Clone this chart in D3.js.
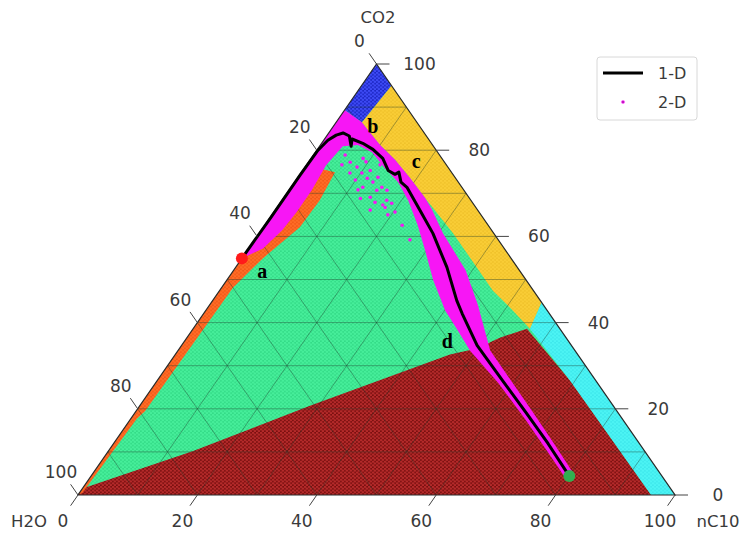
<!DOCTYPE html>
<html>
<head>
<meta charset="utf-8">
<script src="https://cdn.jsdelivr.net/npm/d3@7"></script>
<style>
  body { margin: 0; background: #fff; }
  svg { display: block; font-family: "DejaVu Sans", sans-serif; }
</style>
</head>
<body>
<div id="chart"></div>
<script>
// all points are [CO2, H2O, nC10] in percent
const axisTicks = [0, 20, 40, 60, 80, 100];
const gridLevels = [10, 20, 30, 40, 50, 60, 70, 80, 90];

const regionGreen = [[100, 0, 0], [0, 100, 0], [0, 0, 100]];
const regionMaroon = [[0, 100, 0], [0, 4, 96], [26.5, 4.3, 69.2], [38.6, 5.5, 55.9], [36.5, 11.1, 52.4],
  [34, 16.2, 49.8], [32.6, 21.4, 46], [20.7, 50.8, 28.5], [10.2, 75.6, 14.2], [1.5, 98.5, 0]];
const regionCyan = [[0, 0, 100], [0, 4, 96], [26.5, 4.3, 69.2], [38.6, 5, 56.4], [44.7, 0, 55.3]];
const regionYellow = [[44.7, 0, 55.3], [95, 0, 5], [86.5, 9.2, 4.3], [84.7, 9.1, 6.2], [81.2, 8.8, 10],
  [77.7, 8, 14.2], [73.5, 7.6, 18.9], [68.9, 7.4, 23.7], [60.7, 6.8, 32.5], [52.8, 6.8, 40.4],
  [47.4, 6.8, 45.8], [43.5, 5.9, 50.6], [38.6, 5, 56.4]];
const regionBlue = [[100, 0, 0], [95, 0, 5], [86.5, 9.2, 4.3], [89.3, 10.7, 0]];
const regionOrange = [[0, 100, 0], [76.5, 23.5, 0], [74.9, 19.5, 5.6], [68.4, 25.3, 6.3], [62.1, 31.8, 6.1],
  [54.9, 41.6, 3.5], [48.1, 50, 1.9], [19.5, 79, 1.5], [17.7, 81.3, 1], [0.5, 99, 0.5]];
const regionMagenta = [[89.3, 10.7, 0], [86.5, 9.2, 4.3], [84.7, 9.1, 6.2], [81.2, 8.8, 10], [77.7, 8, 14.2],
  [73.5, 7.6, 18.9], [68.9, 7.4, 23.7], [66.1, 7.6, 26.2], [60.7, 8.5, 30.8], [52.1, 9, 38.9],
  [44, 11, 45], [38.1, 12.8, 49.1], [33.5, 14.2, 52.3], [26.5, 14.2, 59.3], [18.8, 14.2, 67],
  [11.9, 14.3, 73.8], [4.9, 14.5, 80.6], [3.7, 16.4, 79.9], [10.2, 16.3, 73.4], [17.7, 16.3, 66],
  [26, 16.6, 57.4], [33.5, 17.6, 48.9], [38.1, 17.3, 44.6], [42.8, 17.1, 40.1], [49.8, 15.6, 34.6],
  [56.7, 13.5, 29.8], [62.6, 11.8, 25.6], [68.4, 10.5, 21.1], [72.6, 10.1, 17.3], [75.8, 10.7, 13.5],
  [79.5, 11, 9.5], [81.2, 12.5, 6.3], [80.9, 15.2, 3.9], [76.5, 20.2, 3.3], [70.7, 25.5, 3.8],
  [65.6, 30.6, 3.8], [61.4, 35.1, 3.5], [57.2, 40.4, 2.4], [54.9, 45.1, 0]];

// scattered 2-D points off the dense band
const scatter2D = [[77.2, 15.8, 7], [76, 15.2, 8.7], [78.1, 13.2, 8.7], [74.7, 15.1, 10.2], [73.5, 14.8, 11.7],
  [75.3, 13.4, 11.3], [72.6, 14.3, 13.1], [73.7, 12.9, 13.4], [71.4, 13.4, 15.2], [70.7, 14.6, 14.7],
  [70.7, 12.9, 16.4], [68.4, 14.1, 17.5], [67.7, 13.6, 18.7], [66.7, 15.2, 18.1], [71.4, 16.6, 12],
  [68.8, 18.3, 12.9], [69.1, 16.5, 14.4], [67.9, 16.3, 15.8], [74.7, 17.1, 8.2], [78.9, 15.8, 5.3],
  [73.1, 17, 9.9], [77.3, 13.1, 9.6], [76.6, 11.1, 12.3], [65.7, 14.1, 20.3], [62.6, 14.4, 23],
  [59.2, 14.8, 26], [65, 15.6, 19.4], [76.6, 17.5, 5.9], [70.8, 17.7, 11.5], [67.3, 15.3, 17.4],
  [66.1, 18, 15.9]];

// 1-D path
const path1D = [[54.9, 45.1, 0], [64.2, 35.7, 0.1], [74.2, 25.7, 0.1], [80, 19.8, 0.2], [82.3, 17, 0.7],
  [83.5, 15, 1.5], [84, 13.6, 2.4], [83.3, 12.9, 3.8], [80.9, 13.8, 5.3], [82.6, 12.8, 4.6],
  [81.6, 11.5, 6.9], [80.2, 10.5, 9.3], [78.1, 9.9, 12], [75.3, 10.4, 14.3], [74.4, 9.7, 15.9],
  [74.9, 8.8, 16.3], [72.6, 9.6, 17.8], [71.4, 9.2, 19.4], [66, 9.7, 24.3], [60.7, 10.2, 29.1],
  [52.8, 11.8, 35.4], [45.1, 14, 40.9], [42.1, 14.6, 43.3], [34.7, 15.8, 49.5], [26.5, 15.6, 57.9],
  [18.8, 15.4, 65.8], [11.9, 15.3, 72.8], [4.9, 15.5, 79.6]];
const startPoint = [54.9, 45.1, 0];
const endPoint = [4.4, 15.5, 80.1];

const pointLabels = ["a", "b", "c", "d"];
const pointLabelPos = [[50.3, 44, 5.7], [84, 8.6, 7.4], [75.9, 5.4, 18.7], [34.1, 21.1, 44.8]];

const width = 740, height = 533;
const tri = { left: 78, right: 675, top: 64, bottom: 495 };

const svg = d3.select("#chart")
  .append("svg")
  .attr("width", width)
  .attr("height", height);

const xS = d3.scaleLinear().domain([0, 100]).range([tri.left, tri.right]);
const yS = d3.scaleLinear().domain([0, 100]).range([tri.bottom, tri.top]);

function proj(p) {
  const s = p[0] + p[1] + p[2];
  const c = p[0] / s * 100, n = p[2] / s * 100;
  return [xS(n + c / 2), yS(c)];
}

const line = d3.line().x(d => proj(d)[0]).y(d => proj(d)[1]);
const closed = d3.line().x(d => proj(d)[0]).y(d => proj(d)[1]).curve(d3.curveLinearClosed);

// dotted cell textures
const defs = svg.append("defs");
function dotPattern(id, base, dot, r) {
  const p = defs.append("pattern").attr("id", id)
    .attr("patternUnits", "userSpaceOnUse").attr("width", 4).attr("height", 3.6);
  p.append("rect").attr("width", 4).attr("height", 3.6).attr("fill", base);
  p.append("circle").attr("cx", 1).attr("cy", 0.9).attr("r", r).attr("fill", dot);
  p.append("circle").attr("cx", 3).attr("cy", 2.7).attr("r", r).attr("fill", dot);
}
dotPattern("pGreen", "#34dc88", "#46ee9a", 1.3);
dotPattern("pMaroon", "#7a0f0f", "#b42a2a", 1.3);
dotPattern("pCyan", "#3ee8ec", "#4cf4f4", 1.3);
dotPattern("pYellow", "#f0c22a", "#f9cd36", 1.3);
dotPattern("pBlue", "#1c26c4", "#3d4af4", 1.3);
dotPattern("pOrange", "#f25a18", "#ff6c26", 1.3);

const regions = [
  [regionGreen, "url(#pGreen)"],
  [regionMaroon, "url(#pMaroon)"],
  [regionCyan, "url(#pCyan)"],
  [regionYellow, "url(#pYellow)"],
  [regionBlue, "url(#pBlue)"],
  [regionOrange, "url(#pOrange)"]
];
svg.append("g").selectAll("path")
  .data(regions)
  .enter().append("path")
  .attr("d", d => closed(d[0]))
  .attr("fill", d => d[1]);

// grid
const gridLines = [];
gridLevels.forEach(v => {
  gridLines.push([[v, 100 - v, 0], [v, 0, 100 - v]]);
  gridLines.push([[100 - v, v, 0], [0, v, 100 - v]]);
  gridLines.push([[100 - v, 0, v], [0, 100 - v, v]]);
});
svg.append("g").selectAll("path")
  .data(gridLines)
  .enter().append("path")
  .attr("d", d => line(d))
  .attr("fill", "none")
  .attr("stroke", "#1d3a2a")
  .attr("stroke-opacity", 0.5)
  .attr("stroke-width", 0.8);

// dense 2-D band
svg.append("path")
  .attr("d", closed(regionMagenta))
  .attr("fill", "#f716f5");

svg.append("g").selectAll("circle")
  .data(scatter2D)
  .enter().append("circle")
  .attr("cx", d => proj(d)[0])
  .attr("cy", d => proj(d)[1])
  .attr("r", 1.8)
  .attr("fill", "#f716f5");

// triangle outline
svg.append("path")
  .attr("d", closed(regionGreen))
  .attr("fill", "none")
  .attr("stroke", "#2a2a2a")
  .attr("stroke-width", 1.2);

// 1-D path and end points
svg.append("path")
  .attr("d", line(path1D))
  .attr("fill", "none")
  .attr("stroke", "#000")
  .attr("stroke-width", 3)
  .attr("stroke-linejoin", "round");

svg.append("circle")
  .attr("cx", proj(startPoint)[0]).attr("cy", proj(startPoint)[1])
  .attr("r", 6).attr("fill", "#ff1a1a");
svg.append("circle")
  .attr("cx", proj(endPoint)[0]).attr("cy", proj(endPoint)[1])
  .attr("r", 6).attr("fill", "#2fb050");

svg.append("g").selectAll("text")
  .data(pointLabels)
  .enter().append("text")
  .attr("x", (d, i) => proj(pointLabelPos[i])[0])
  .attr("y", (d, i) => proj(pointLabelPos[i])[1])
  .attr("text-anchor", "middle")
  .style("font-family", "'Liberation Serif', serif")
  .style("font-weight", "bold")
  .style("font-size", "20px")
  .text(d => d);

// axes
const apex = proj([100, 0, 0]), bl = proj([0, 100, 0]), br = proj([0, 0, 100]);
function unit(a, b) {
  const dx = b[0] - a[0], dy = b[1] - a[1], len = Math.hypot(dx, dy);
  return [dx / len, dy / len];
}
const upRight = unit(bl, apex);   // along left edge
const upLeft = unit(br, apex);    // along right edge
const axes = [
  { pos: v => [0, 100 - v, v], dir: [-upRight[0], -upRight[1]], lab: [-15, 26] },   // nC10, bottom
  { pos: v => [v, 0, 100 - v], dir: [1, 0], lab: [43, 0] },                          // CO2, right
  { pos: v => [100 - v, v, 0], dir: upLeft, lab: [-17, -23] }                        // H2O, left
];
const tickLen = 13;
axes.forEach(ax => {
  const g = svg.append("g");
  g.selectAll("line")
    .data(axisTicks)
    .enter().append("line")
    .attr("x1", v => proj(ax.pos(v))[0])
    .attr("y1", v => proj(ax.pos(v))[1])
    .attr("x2", v => proj(ax.pos(v))[0] + ax.dir[0] * tickLen)
    .attr("y2", v => proj(ax.pos(v))[1] + ax.dir[1] * tickLen)
    .attr("stroke", "#444")
    .attr("stroke-width", 1);
  g.selectAll("text")
    .data(axisTicks)
    .enter().append("text")
    .attr("x", v => proj(ax.pos(v))[0] + ax.lab[0])
    .attr("y", v => proj(ax.pos(v))[1] + ax.lab[1])
    .attr("text-anchor", "middle")
    .attr("dominant-baseline", "central")
    .style("font-size", "17px")
    .attr("fill", "#3a3a3a")
    .text(v => v);
});

// axis titles
const titles = [["CO2", 378, 17], ["H2O", 29, 521], ["nC10", 718, 521]];
svg.append("g").selectAll("text")
  .data(titles)
  .enter().append("text")
  .attr("x", d => d[1])
  .attr("y", d => d[2])
  .attr("text-anchor", "middle")
  .attr("dominant-baseline", "central")
  .style("font-size", "16.5px")
  .attr("fill", "#3a3a3a")
  .text(d => d[0]);

// legend
const legend = svg.append("g").attr("transform", "translate(597,57)");
legend.append("rect")
  .attr("width", 100).attr("height", 63).attr("rx", 3)
  .attr("fill", "#fff").attr("stroke", "#d8d8d8");
legend.append("line")
  .attr("x1", 6).attr("x2", 46).attr("y1", 16).attr("y2", 16)
  .attr("stroke", "#000").attr("stroke-width", 3);
legend.append("circle")
  .attr("cx", 26).attr("cy", 45).attr("r", 1.8).attr("fill", "#f716f5");
legend.append("circle")
  .attr("cx", 26).attr("cy", 45).attr("r", 0.7).attr("fill", "#602060");
legend.append("text").attr("x", 61).attr("y", 16).attr("dominant-baseline", "central")
  .style("font-size", "16px").attr("fill", "#3a3a3a").text("1-D");
legend.append("text").attr("x", 61).attr("y", 45).attr("dominant-baseline", "central")
  .style("font-size", "16px").attr("fill", "#3a3a3a").text("2-D");
</script>
</body>
</html>
